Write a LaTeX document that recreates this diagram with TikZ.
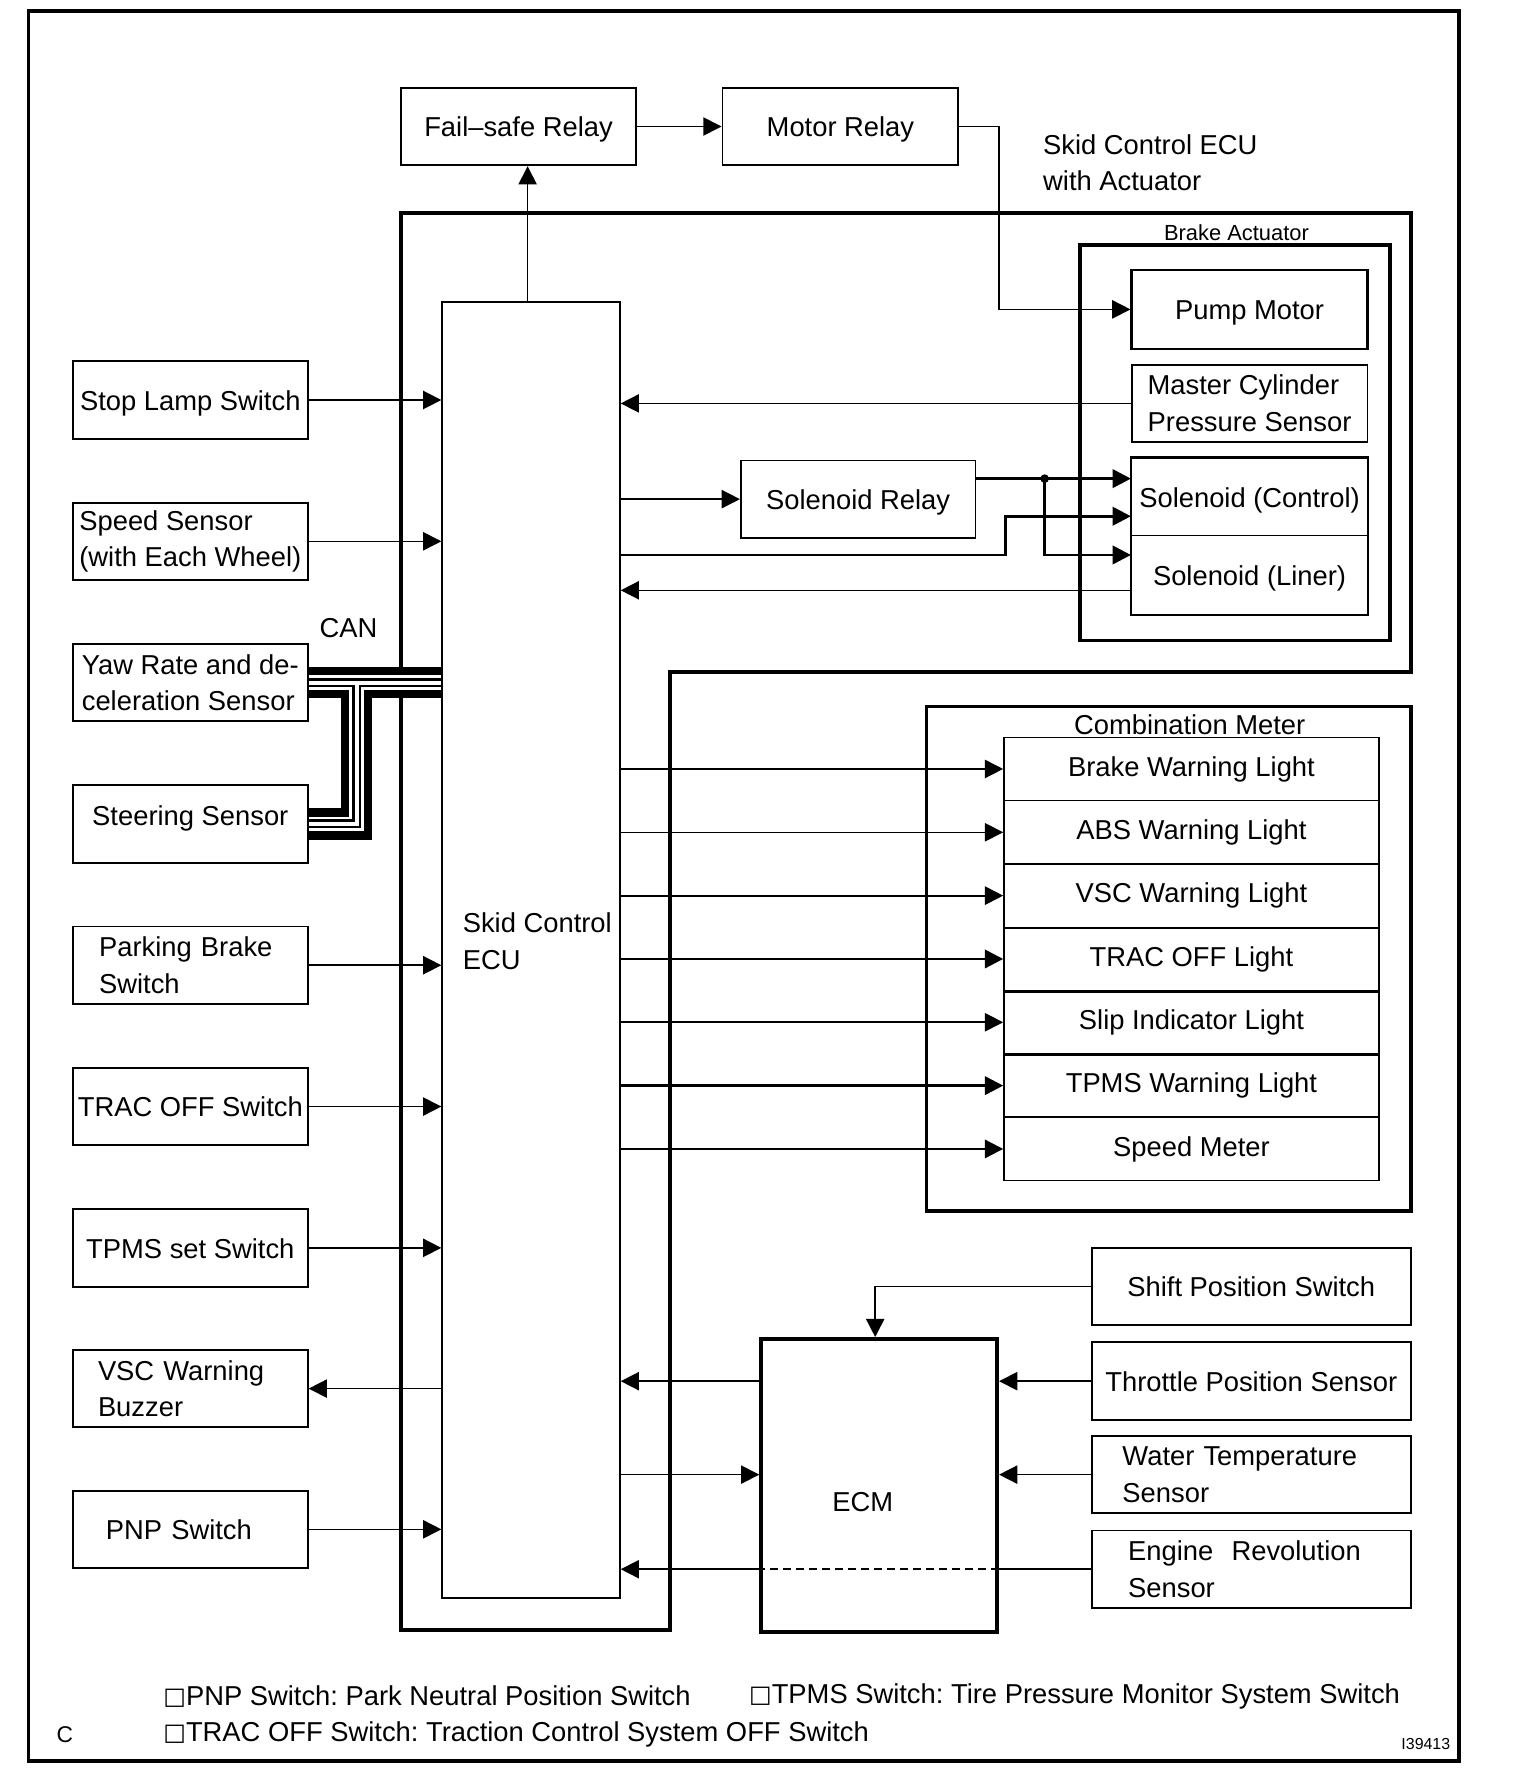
\documentclass[tikz,border=0pt]{standalone}
\usepackage{fontspec}
\setmainfont{Liberation Sans}
\newfontfamily\symf{DejaVu Sans}
\usetikzlibrary{arrows.meta,calc}
\newcommand{\sqmark}{\raisebox{0.6pt}{\symf\fontsize{10.5}{10.5}\selectfont □}}
\begin{document}
\frenchspacing
\begin{tikzpicture}[x=0.5pt,y=-0.5pt,
  font=\fontsize{12}{16}\selectfont,
  box/.style={draw, line width=0.85pt, inner sep=0pt, align=center, minimum width=103pt, minimum height=34pt},
  one/.style={text height=9pt, text depth=0pt},
  rbox/.style={box, minimum width=140pt},
  row/.style={draw, line width=0.7pt, inner sep=0pt, minimum width=164.5pt, minimum height=27.785pt},
  thickframe/.style={draw, line width=1.7pt, inner sep=0pt},
  arr/.style={-{Triangle[length=8pt,width=8pt]}, line width=0.7pt},
  arrthick/.style={arr, line width=1.3pt},
  plain/.style={inner sep=0pt}
]
\useasboundingbox (0,0) rectangle (1334,1569);
% outer border
\draw[line width=1.7pt] (25,10) rectangle (1280,1545);

% Skid control ECU with actuator frame
\draw[line width=1.7pt, line join=miter] (352,187) -- (1238,187) -- (1238,590) -- (588,590) -- (588,1430) -- (352,1430) -- cycle;

% top relays
\node[box, one] (fsr) at (455,111) {Fail–safe Relay};
\node[box, one, minimum width=103.5pt] (mr) at (737.5,111) {Motor Relay};
\node[plain, anchor=west, align=left] (title) at (915,143) {Skid Control ECU\\with Actuator};

% brake actuator
\node[thickframe, minimum width=136pt, minimum height=173.5pt] (ba) at (1084,388.5) {};
\node[plain, font=\fontsize{9.6}{11}\selectfont] (balbl) at (1085,204) {Brake Actuator};
\node[box, one, line width=1pt, minimum width=103.5pt, minimum height=34.5pt] (pm) at (1096.5,271.5) {Pump Motor};
\node[box, minimum width=103.5pt, align=left] (mc) at (1096.5,354) {Master Cylinder\\Pressure Sensor};
\node[box, one, line width=0.6pt, minimum width=103.5pt] (solc) at (1096.5,436) {Solenoid (Control)};
\node[box, one, line width=0.6pt, minimum width=103.5pt, minimum height=34.5pt] (soll) at (1096.5,504.5) {Solenoid (Liner)};
\draw[line width=1pt] (solc.north west) rectangle (soll.south east);
\node[box, one, line width=0.7pt] (sr) at (753,438) {Solenoid Relay};

% ECU
\node[draw, line width=0.7pt, inner sep=0pt, minimum width=78pt, minimum height=568.5pt,
  label={[align=left, xshift=2.75pt, yshift=3.75pt]center:Skid Control\\ECU}] (ecu) at (466,833.5) {};

% left boxes
\node[box, one] (sls) at (167,351) {Stop Lamp Switch};
\node[box, align=left] (ss) at (167,475) {Speed Sensor\\(with Each Wheel)};
\node[box, align=left] (yaw) at (167,599) {Yaw Rate and de-\\celeration Sensor};
\node[box, text height=5pt, text depth=3.4pt] (st) at (167,723) {Steering Sensor};
\node[box, text width=80pt, inner xsep=11.5pt, align=left] (pbs) at (167,847) {Parking Brake\\Switch};
\node[box, one] (tos) at (167,971) {TRAC OFF Switch};
\node[box, one] (tps) at (167,1095) {TPMS set Switch};
\node[box, text width=81pt, inner xsep=11pt, align=left] (vsc) at (167,1218.5) {VSC Warning\\Buzzer};
\node[box, one, text width=74pt, inner xsep=14.5pt, align=left] (pnp) at (167,1342) {PNP Switch};
\node[plain, anchor=west] (can) at (280,551) {CAN};

% combination meter
\node[thickframe, minimum width=212.5pt, minimum height=221.5pt] (cm) at (1025.5,841.5) {};
\foreach \i/\t in {0/Brake Warning Light,1/ABS Warning Light,2/VSC Warning Light,3/TRAC OFF Light,4/Slip Indicator Light,5/TPMS Warning Light,6/Speed Meter}
  \node[row] (r\i) at (1045.5,{647+55.57*(\i+0.5)}) {\t};
\foreach \i in {2,3,4} \draw[line width=1.2pt] (r\i.south west) -- (r\i.south east);
\node[plain] (cmlbl) at (1044,636) {Combination Meter};

% ECM and its sensors
\node[thickframe, minimum width=103.5pt, minimum height=128.5pt,
  label={[xshift=-7.25pt, yshift=-7.25pt]center:ECM}] (ecm) at (771.5,1303.5) {};
\node[rbox, one] (sps) at (1098,1129) {Shift Position Switch};
\node[rbox, one] (tpsn) at (1098,1212) {Throttle Position Sensor};
\node[rbox, text width=113pt, inner xsep=13.5pt, align=left] (wts) at (1098,1294) {Water Temperature\\Sensor};
\node[rbox, text width=108pt, inner xsep=16pt, align=left] (ers) at (1098,1377) {Engine~~Revolution\\Sensor};

% footnotes
\node[plain, anchor=west] (fn1) at (143,1489) {\sqmark PNP Switch: Park Neutral Position Switch};
\node[plain, anchor=west] (fn2) at (657,1489) {\sqmark TPMS Switch: Tire Pressure Monitor System Switch};
\node[plain, anchor=west] (fn3) at (143,1522) {\sqmark TRAC OFF Switch: Traction Control System OFF Switch};
\node[plain, font=\fontsize{10}{12}\selectfont] (cl) at (57,1522) {C};
\node[plain, anchor=east, font=\fontsize{7}{8}\selectfont] (id) at (1273,1530) {I39413};

% ---- connectors ----
\draw[arr] (fsr.east) -- (mr.west);
\coordinate (e1) at ([xshift=-1.5pt]ecu.north);
\draw[arr] (e1) -- (e1 |- fsr.south);
\draw[arr] (mr.east) -- ++(17.5pt,0) |- (pm.west);
\draw[arr] (mc.west) -- (mc.west -| ecu.east);
\draw[arr] (sr.west -| ecu.east) -- (sr.west);
\coordinate (s0) at ([yshift=9pt]sr.east);
\coordinate (s0t) at ([yshift=8pt]solc.west);
\coordinate (sdot) at ([xshift=30pt,yshift=9pt]sr.east);
\coordinate (s1) at ([yshift=8.75pt]soll.west);
\coordinate (s2) at ([yshift=-8.5pt]solc.west);
\coordinate (s3) at ([yshift=-6.75pt]soll.west);
\draw[arrthick] (s0) -- (s0t);
\fill (sdot) circle[radius=1.9pt];
\draw[arrthick] (sdot) |- (s1);
\draw[arrthick] (s1 -| ecu.east) -- ++(169pt,0) |- (s2);
\draw[arr] (s3) -- (s3 -| ecu.east);

% left inputs
\draw[arr] (sls.east) -- (sls.east -| ecu.west);
\draw[arr] (ss.east) -- (ss.east -| ecu.west);
\draw[arr] (pbs.east) -- (pbs.east -| ecu.west);
\draw[arr] (tos.east) -- (tos.east -| ecu.west);
\draw[arr] (tps.east) -- (tps.east -| ecu.west);
\draw[arr] (vsc.east -| ecu.west) -- (vsc.east);
\draw[arr] (pnp.east) -- (pnp.east -| ecu.west);

% CAN bus
\path (yaw.east) ++(21pt,0) coordinate (canj);
\foreach \c/\w in {black/13.75pt, white/6.5pt, black/4pt, white/1.75pt}{
  \draw[\c, line width=\w] (yaw.east) -- (yaw.east -| ecu.west);
  \draw[\c, line width=\w, line join=miter] (canj) |- (st.east);
}

% combination meter outputs
\foreach \i/\lw in {0/0.7pt,1/0.7pt,2/0.9pt,3/1.2pt,4/0.7pt,5/1.2pt,6/0.9pt}
  \draw[arr, line width=\lw] (r\i.west -| ecu.east) -- (r\i.west);

% ECM
\coordinate (e2) at ([xshift=-1.75pt]ecm.north);
\draw[arr] (sps.west) -| (e2);
\draw[arr] (tpsn.west) -- (tpsn.west -| ecm.east);
\draw[arr] (wts.west) -- (wts.west -| ecm.east);
\draw[arr] (tpsn.west -| ecm.west) -- (tpsn.west -| ecu.east);
\draw[arr] (wts.west -| ecu.east) -- (wts.west -| ecm.west);
\draw[line width=0.7pt] (ers.west) -- (ers.west -| ecm.east);
\draw[line width=0.7pt, dash pattern=on 3.5pt off 2.2pt] (ers.west -| ecm.east) -- (ers.west -| ecm.west);
\draw[arr] (ers.west -| ecm.west) -- (ers.west -| ecu.east);
\end{tikzpicture}
\end{document}
